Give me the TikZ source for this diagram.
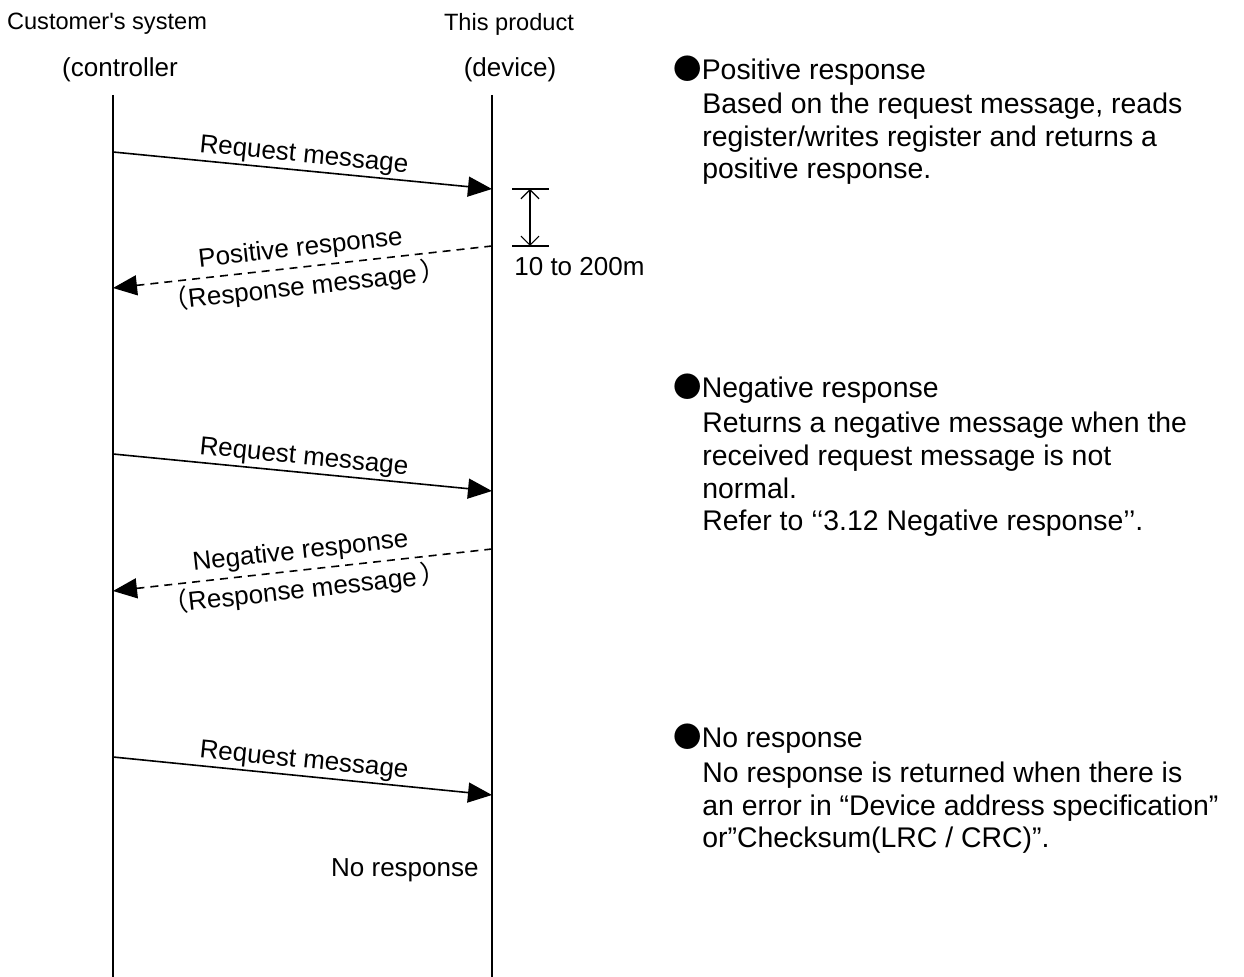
\documentclass[tikz,border=0pt]{standalone}
\usepackage{fontspec}
\setmainfont{Liberation Sans}[Ligatures=TeXOff]
\newfontfamily\cjkfont{Noto Sans CJK JP}
\usetikzlibrary{arrows.meta}

\tikzset{
  lifeline/.style={line width=0.8pt},
  reqmsg/.style={line width=0.8pt,-{Triangle[length=12pt,width=10pt]}},
  respmsg/.style={line width=0.8pt,dash pattern=on 4pt off 3pt,{Triangle[length=12pt,width=10pt]}-},
  dimline/.style={line width=0.6pt,{Straight Barb[length=4.5pt,width=9pt]}-{Straight Barb[length=4.5pt,width=9pt]}},
  txt/.style={font=\fontsize{13}{15.5}\selectfont,inner sep=0pt},
  exptxt/.style={font=\fontsize{14.2}{16.4}\selectfont,inner sep=0pt,anchor=base west},
  hdr/.style={font=\fontsize{11.8}{14}\selectfont,inner sep=0pt},
  role/.style={font=\fontsize{13}{14}\selectfont,inner sep=0pt},
}

\begin{document}
\begin{tikzpicture}[x=0.5pt,y=-0.5pt]
\useasboundingbox (0,0) rectangle (1244,977);

% headers
\node[hdr] (custname) at (107,24) {Customer's system};
\node[role] (custrole) at (120,70) {(controller};
\node[hdr] (prodname) at (509,24) {This product};
\node[role] (prodrole) at (510,70) {(device)};

% lifelines
\coordinate (ctop) at (113,95);
\coordinate (cbot) at (113,977);
\coordinate (dtop) at (492,95);
\coordinate (dbot) at (492,977);
\draw[lifeline] (ctop) -- (cbot);
\draw[lifeline] (dtop) -- (dbot);

% message end points
\coordinate (req1s) at (113,152);
\coordinate (req1e) at (492,189);
\coordinate (pos1s) at (113,288);
\coordinate (pos1e) at (492,246);
\coordinate (req2s) at (113,454);
\coordinate (req2e) at (492,491);
\coordinate (neg1s) at (113,591);
\coordinate (neg1e) at (492,549);
\coordinate (req3s) at (113,757);
\coordinate (req3e) at (492,795);

% positive response
\draw[reqmsg] (req1s) -- node[txt,sloped,above=1pt] {Request message} (req1e);
\draw[respmsg] (pos1s) -- node[txt,sloped,above=2.5pt] {Positive response}
  node[txt,sloped,below=2.5pt] {{\cjkfont （}Response message\,{\cjkfont ）}} (pos1e);

% time between request and response
\coordinate (dimtop) at (530,189);
\coordinate (dimbot) at (530,246);
\draw[line width=0.6pt] ([xshift=-9pt]dimtop) -- ([xshift=9.5pt]dimtop);
\draw[line width=0.6pt] ([xshift=-9pt]dimbot) -- ([xshift=9.5pt]dimbot);
\draw[dimline] (dimtop) -- (dimbot);
\node[txt,anchor=base west] (waittime) at (514,276) {10 to 200m};

% negative response
\draw[reqmsg] (req2s) -- node[txt,sloped,above=1pt] {Request message} (req2e);
\draw[respmsg] (neg1s) -- node[txt,sloped,above=2.5pt] {Negative response}
  node[txt,sloped,below=2.5pt] {{\cjkfont （}Response message\,{\cjkfont ）}} (neg1e);

% no response
\draw[reqmsg] (req3s) -- node[txt,sloped,above=1pt] {Request message} (req3e);
\node[txt,anchor=base east] (noresp) at (479,877) {No response};

% explanations (body anchored at its last line)
\node[exptxt] (poshead) at (673,80) {{\cjkfont ●}Positive response};
\node[exptxt,align=left] (posbody) at (702,179)
  {Based on the request message, reads\\register/writes register and returns a\\positive response.};
\node[exptxt] (neghead) at (673,398) {{\cjkfont ●}Negative response};
\node[exptxt,align=left] (negbody) at (702,531)
  {Returns a negative message when the\\received request message is not\\normal.\\Refer to ‘‘3.12 Negative response’’.};
\node[exptxt] (nonhead) at (673,748) {{\cjkfont ●}No response};
\node[exptxt,align=left] (nonbody) at (702,848)
  {No response is returned when there is\\an error in “Device address specification”\\or”Checksum(LRC / CRC)”.};
\end{tikzpicture}
\end{document}
